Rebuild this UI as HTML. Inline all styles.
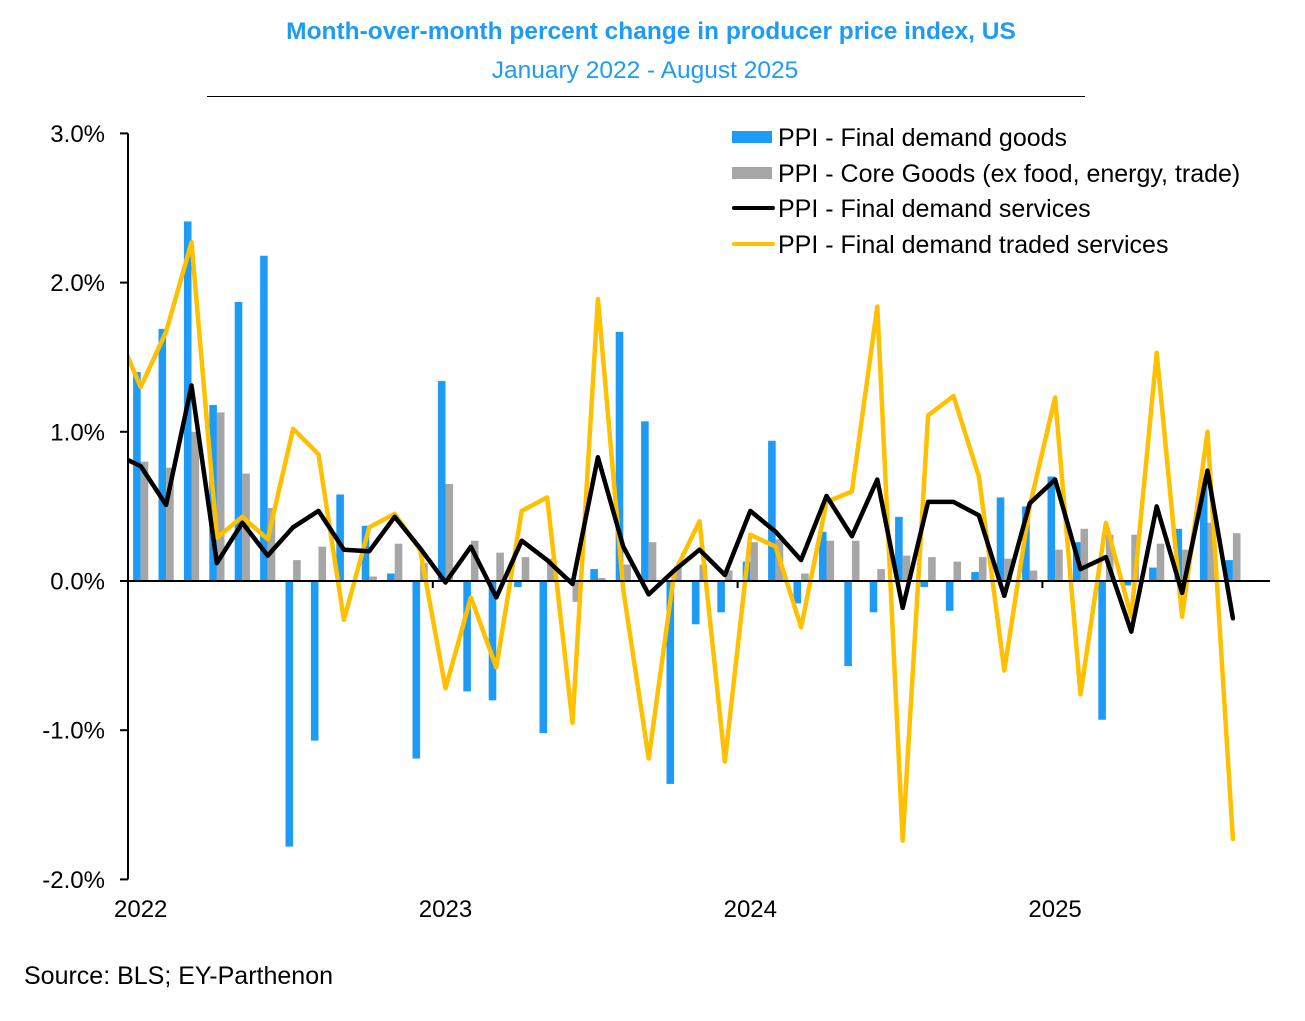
<!DOCTYPE html>
<html><head><meta charset="utf-8"><style>
body{margin:0;background:#fff;}
svg text{font-family:"Liberation Sans",Arial,sans-serif;}
</style></head><body>
<svg id="chart" width="1305" height="1016" viewBox="0 0 1305 1016" xmlns="http://www.w3.org/2000/svg">
<text x="651" y="39" text-anchor="middle" font-size="24.5" font-weight="bold" fill="#1E9BF5">Month-over-month percent change in producer price index, US</text>
<text x="645" y="78" text-anchor="middle" font-size="24.5" fill="#1E9BF5">January 2022 - August 2025</text>
<line x1="207" y1="96.5" x2="1085" y2="96.5" stroke="#000" stroke-width="1"/>
<g id="bars"></g>
<g id="lines"></g>
<g id="axes"></g>
<g>
<rect x="732" y="131" width="40" height="12" fill="#1E9BF5"/>
<text x="778" y="146" font-size="25">PPI - Final demand goods</text>
<rect x="732" y="167" width="40" height="12" fill="#A6A6A6"/>
<text x="778" y="182" font-size="25">PPI - Core Goods (ex food, energy, trade)</text>
<line x1="734" y1="208" x2="773" y2="208" stroke="#000" stroke-width="4" stroke-linecap="round"/>
<text x="778" y="217" font-size="25">PPI - Final demand services</text>
<line x1="734" y1="244" x2="773" y2="244" stroke="#FFC000" stroke-width="4" stroke-linecap="round"/>
<text x="778" y="253" font-size="25">PPI - Final demand traded services</text>
</g>
<text x="24" y="984" font-size="25">Source: BLS; EY-Parthenon</text>
</svg>
<script>
// Jan 2022 .. Aug 2025 (44 months)
const goods = [1.40,1.69,2.41,1.18,1.87,2.18,-1.78,-1.07,0.58,0.37,0.05,-1.19,
  1.34,-0.74,-0.80,-0.04,-1.02,0.02,0.08,1.67,1.07,-1.36,-0.29,-0.21,
  0.13,0.94,-0.15,0.33,-0.57,-0.21,0.43,-0.04,-0.20,0.06,0.56,0.50,
  0.70,0.26,-0.93,-0.03,0.09,0.35,0.70,0.14];
const coreGoods = [0.80,0.76,1.00,1.13,0.72,0.49,0.14,0.23,0.00,0.03,0.25,0.12,
  0.65,0.27,0.19,0.16,0.15,-0.14,0.02,0.11,0.26,0.10,0.11,0.07,
  0.26,0.28,0.05,0.27,0.27,0.08,0.17,0.16,0.13,0.16,0.15,0.07,
  0.21,0.35,0.31,0.31,0.25,0.21,0.39,0.32];
// services lines: first value is Dec 2021 (clipped at axis)
const services = [0.85,0.77,0.51,1.31,0.12,0.39,0.17,0.36,0.47,0.21,0.20,0.43,0.22,
  -0.01,0.23,-0.11,0.27,0.14,-0.02,0.83,0.23,-0.09,0.07,0.21,0.04,
  0.47,0.33,0.14,0.57,0.30,0.68,-0.18,0.53,0.53,0.44,-0.10,0.52,
  0.68,0.08,0.16,-0.34,0.50,-0.08,0.74,-0.25];
const traded = [1.70,1.30,1.67,2.27,0.29,0.43,0.28,1.02,0.85,-0.26,0.36,0.45,0.21,
  -0.72,-0.11,-0.58,0.47,0.56,-0.95,1.89,-0.06,-1.19,0.05,0.40,-1.21,
  0.31,0.23,-0.31,0.53,0.60,1.84,-1.74,1.11,1.24,0.70,-0.60,0.50,
  1.23,-0.76,0.39,-0.24,1.53,-0.24,1.00,-1.73];
const yTicks = [3,2,1,0,-1,-2];
const yTickLabels = ["3.0%","2.0%","1.0%","0.0%","-1.0%","-2.0%"];
const years = ["2022","2023","2024","2025"];

const NS="http://www.w3.org/2000/svg";
const X0=128, STEP=25.4, XEND=1270;
function y(v){return 581-v*149.2;}
function xc(i){return X0+STEP*(i+0.5);}
function mk(tag,attrs,parent){const e=document.createElementNS(NS,tag);for(const k in attrs)e.setAttribute(k,attrs[k]);parent.appendChild(e);return e;}

const bars=document.getElementById('bars');
goods.forEach((v,i)=>{
  const r=mk('rect',{x:xc(i)-7.6,y:Math.min(y(v),y(0)),width:7.6,height:Math.abs(y(v)-y(0)),fill:'#1E9BF5'},bars);
  
  
});
coreGoods.forEach((v,i)=>{
  const r=mk('rect',{x:xc(i),y:Math.min(y(v),y(0)),width:7.6,height:Math.abs(y(v)-y(0)),fill:'#A6A6A6'},bars);
  
  
});

const lines=document.getElementById('lines');
const defs=mk('defs',{},lines);
const cp=mk('clipPath',{id:'plotclip'},defs);
mk('rect',{x:X0,y:100,width:XEND-X0+20,height:820},cp);
function drawLine(arr,color,name){
  const pts=arr.map((v,i)=>xc(i-1).toFixed(1)+','+y(v).toFixed(1)).join(' ');
  const p=mk('polyline',{points:pts,fill:'none',stroke:color,'stroke-width':4.5,'stroke-linejoin':'round','stroke-linecap':'round','clip-path':'url(#plotclip)'},lines);
  
  
}
drawLine(traded,'#FFC000','line-traded-services');
drawLine(services,'#000000','line-services');

const axes=document.getElementById('axes');
const ya=mk('line',{x1:X0,y1:y(3),x2:X0,y2:y(-2),stroke:'#000','stroke-width':2},axes);


const xa=mk('line',{x1:X0,y1:y(0),x2:XEND,y2:y(0),stroke:'#000','stroke-width':2},axes);


yTicks.forEach((t,i)=>{
  const tk=mk('line',{x1:X0-8,y1:y(t),x2:X0,y2:y(t),stroke:'#000','stroke-width':2},axes);
  
  
  const tx=mk('text',{x:105,y:y(t)+8.5,'text-anchor':'end','font-size':24},axes);
  tx.textContent=yTickLabels[i];
  
  
});
years.forEach((yr,k)=>{
  const tx0=X0+STEP*12*k;
  if(k>0){
    const tk=mk('line',{x1:tx0,y1:y(0),x2:tx0,y2:y(0)+7,stroke:'#000','stroke-width':2},axes);
    
    
  }
  const tx=mk('text',{x:xc(12*k),y:917,'text-anchor':'middle','font-size':24},axes);
  tx.textContent=yr;
  
  
});
</script>
</body></html>
